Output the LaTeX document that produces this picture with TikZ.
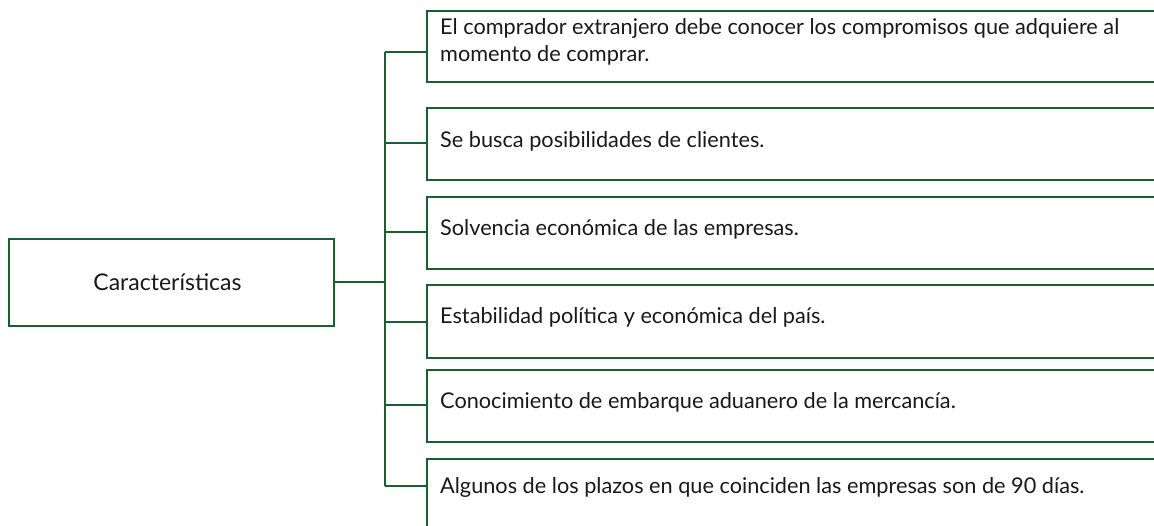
\documentclass[tikz,border=0pt]{standalone}
\usepackage{fontspec}
\setmainfont{Lato}
\definecolor{lgreen}{RGB}{27,94,50}
\begin{document}
\begin{tikzpicture}[x=1pt,y=1pt,
  line/.style={draw=lgreen,line width=2pt},
  boxR/.style={draw=lgreen,line width=2pt,anchor=north west,minimum width=800pt,inner sep=0pt},
  txt/.style={anchor=west,inner sep=0pt,font=\fontsize{21.7}{27}\selectfont,align=left,text=black!90}]
\clip (0,0) rectangle (1154,-525);
\useasboundingbox (0,0) rectangle (1154,-525);
% left box
\node[draw=lgreen,line width=2pt,minimum width=325pt,minimum height=87pt,inner sep=0pt,
  font=\fontsize{23}{27}\selectfont,text=black!90] (car) at (171.5,-282.5) {Características\hspace*{8pt}};
% right boxes
\node[boxR,minimum height=71pt] (b1) at (426,-10) {};
\node[boxR,minimum height=72pt] (b2) at (426,-107) {};
\node[boxR,minimum height=72pt] (b3) at (426,-196) {};
\node[boxR,minimum height=73pt] (b4) at (426,-283.5) {};
\node[boxR,minimum height=72pt] (b5) at (426,-369) {};
\node[boxR,minimum height=72pt] (b6) at (426,-458) {};
% texts
\node[txt] (t1) at (440,-42) {El comprador extranjero debe conocer los compromisos que adquiere al\\momento de comprar.};
\node[txt] (t2) at (440,-141) {Se busca posibilidades de clientes.};
\node[txt] (t3) at (440,-229) {Solvencia económica de las empresas.};
\node[txt] (t4) at (440,-317) {Estabilidad política y económica del país.};
\node[txt] (t5) at (440,-402) {Conocimiento de embarque aduanero de la mercancía.};
\node[txt] (t6) at (440,-487) {Algunos de los plazos en que coinciden las empresas son de 90 días.};
% connectors
\coordinate (j0) at (385,-282);
\coordinate (j1) at (385,-52);
\coordinate (j2) at (385,-143);
\coordinate (j3) at (385,-232);
\coordinate (j4) at (385,-322);
\coordinate (j5) at (385,-405);
\coordinate (j6) at (385,-486);
\draw[line] (j0 -| car.east) -- (j0);
\draw[line] (j1) -- (j6);
\draw[line] (j1) -- (j1 -| b1.west);
\draw[line] (j2) -- (j2 -| b2.west);
\draw[line] (j3) -- (j3 -| b3.west);
\draw[line] (j4) -- (j4 -| b4.west);
\draw[line] (j5) -- (j5 -| b5.west);
\draw[line] (j6) -- (j6 -| b6.west);
\end{tikzpicture}
\end{document}
